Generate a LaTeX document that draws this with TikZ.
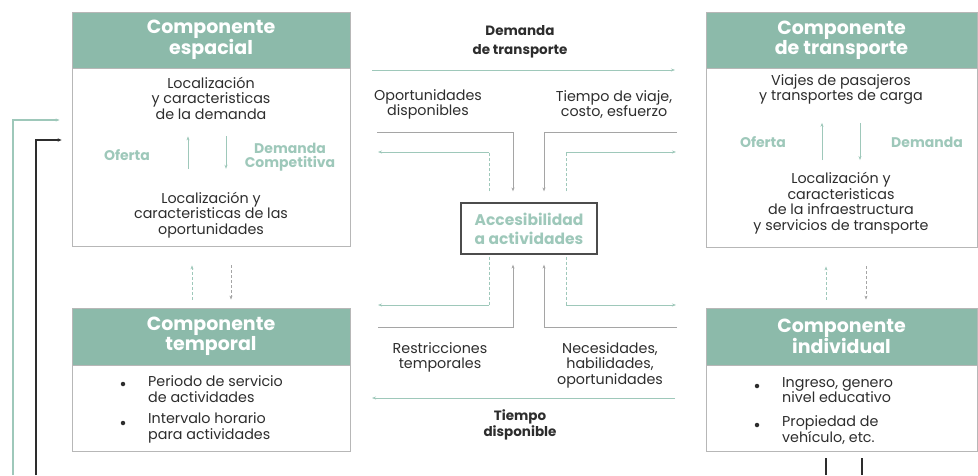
\documentclass[tikz,border=0pt]{standalone}
\usepackage{fontspec}
\setmainfont{Poppins}
\usetikzlibrary{positioning,arrows.meta}
\definecolor{verde}{RGB}{140,186,170}
\definecolor{verdeclaro}{RGB}{158,200,186}
\definecolor{gris}{RGB}{165,165,165}
\definecolor{texto}{RGB}{45,45,45}
\tikzstyle{caja} = [draw=gris!80, rectangle, line width=0.8pt]
\tikzstyle{cabeza} = [draw=gris!80, fill=verde, rectangle, line width=0.8pt, text=white, align=center, font=\bfseries\fontsize{19}{17.5}\selectfont]
\tikzstyle{txt} = [text=texto, align=center, inner sep=1pt, font=\fontsize{14.3}{15.5}\selectfont]
\tikzstyle{vtxt} = [text=verdeclaro, align=center, inner sep=1pt, font=\bfseries\fontsize{14}{13.5}\selectfont]
\tikzstyle{bala} = [circle, fill=texto, inner sep=0pt, minimum size=4.5pt]
\tikzstyle{lv} = [draw=verdeclaro, line width=0.9pt, -{Stealth[length=4pt,width=3pt]}]
\tikzstyle{lg} = [draw=gris, line width=0.9pt, -{Stealth[length=4pt,width=3pt]}]

\begin{document}
\begin{tikzpicture}[x=1pt, y=-1pt]
	\useasboundingbox (0,0) rectangle (978,475);
	% cajas
	\node (esp) [caja, minimum width=278pt, minimum height=234pt] at (211,129) {};
	\node (espH) [cabeza, minimum width=278pt, minimum height=56pt, anchor=north] at (esp.north) {Componente\\espacial};
	\node (tem) [caja, minimum width=278pt, minimum height=143pt] at (211,379.5) {};
	\node (temH) [cabeza, minimum width=278pt, minimum height=57pt, anchor=north] at (tem.north) {Componente\\temporal};
	\node (tra) [caja, minimum width=271pt, minimum height=235pt] at (841.5,129.5) {};
	\node (traH) [cabeza, minimum width=271pt, minimum height=56pt, anchor=north] at (tra.north) {Componente\\de transporte};
	\node (ind) [caja, minimum width=271pt, minimum height=143pt] at (841.5,379.5) {};
	\node (indH) [cabeza, minimum width=271pt, minimum height=57pt, anchor=north] at (ind.north) {Componente\\individual};
	\node (acc) [draw=texto!85, line width=1.2pt, minimum width=136pt, minimum height=51pt, vtxt, font=\bfseries\fontsize{15.5}{19}\selectfont] at (529,228.5) {Accesibilidad\\a actividades};

	% componente espacial
	\node (espD) [txt] at (211,98) {Localización\\y caracteristicas\\de la demanda};
	\node (espO) [txt] at (211,215) {Localización y\\caracteristicas de las\\oportunidades};
	\node (espOf) [vtxt] at (127,155) {Oferta};
	\node (espDc) [vtxt] at (290,157) {Demanda\\Competitiva};
	\draw [lv, shorten <=22pt, shorten >=16pt] ([xshift=-23pt]espO.north) -- ([xshift=-23pt]espD.south);
	\draw [lv, shorten <=16pt, shorten >=22pt] ([xshift=15pt]espD.south) -- ([xshift=15pt]espO.north);

	% componente de transporte
	\node (traV) [txt] at (841,89.5) {Viajes de pasajeros\\y transportes de carga};
	\node (traL) [txt] at (841,203) {Localización y\\caracteristicas\\de la infraestructura\\y servicios de transporte};
	\node (traOf) [vtxt] at (763,142) {Oferta};
	\node (traDm) [vtxt] at (927,142) {Demanda};
	\draw [lv, shorten <=11pt, shorten >=17pt] ([xshift=-19pt]traL.north) -- ([xshift=-19pt]traV.south);
	\draw [lv, shorten <=17pt, shorten >=11pt] ([xshift=19pt]traV.south) -- ([xshift=19pt]traL.north);

	% componente temporal
	\node (temA) [txt, align=left, anchor=west] at (147,389) {Periodo de servicio\\de actividades};
	\node (temB) [txt, align=left, anchor=west] at (147,428) {Intervalo horario\\para actividades};
	\node (temA1) [bala] at (123,384) {};
	\node (temB1) [bala] at (123,423) {};

	% componente individual
	\node (indA) [txt, align=left, anchor=west] at (781,390) {Ingreso, genero\\nivel educativo};
	\node (indB) [txt, align=left, anchor=west] at (781,430) {Propiedad de\\vehículo, etc.};
	\node (indA1) [bala] at (757,386) {};
	\node (indB1) [bala] at (757,425) {};

	% entre cajas
	\draw [lv, densely dashed, shorten <=8pt, shorten >=19pt] ([xshift=-19pt]tem.north) -- ([xshift=-19pt]esp.south);
	\draw [lg, densely dashed, shorten <=19pt, shorten >=8pt] ([xshift=20pt]esp.south) -- ([xshift=20pt]tem.north);
	\draw [lv, densely dashed, shorten <=8pt, shorten >=19pt] ([xshift=-15.5pt]ind.north) -- ([xshift=-15.5pt]tra.south);
	\draw [lg, densely dashed, shorten <=19pt, shorten >=8pt] ([xshift=24.5pt]tra.south) -- ([xshift=24.5pt]ind.north);

	% centro arriba
	\node (dem) [txt, font=\bfseries\fontsize{13.5}{19}\selectfont] at (520,42) {Demanda\\de transporte};
	\node (opo) [txt] at (428,104.5) {Oportunidades\\disponibles};
	\node (tie) [txt] at (614,104.5) {Tiempo de viaje,\\costo, esfuerzo};
	\coordinate (demL) at (372,70);
	\coordinate (demR) at (675,70);
	\draw [lv] (demL) -- (demR);
	\coordinate (oaL) at (377,132);
	\coordinate (oaR) at (677,132);
	\coordinate (iaL) at (378,152);
	\coordinate (iaR) at (676,152);
	\draw [lg, shorten >=11pt] (oaL) -| ([xshift=-16pt]acc.north);
	\draw [lg, shorten >=11pt] (oaR) -| ([xshift=15pt]acc.north);
	\draw [draw=verdeclaro, line width=0.9pt, densely dashed, shorten <=11pt] ([xshift=-40pt]acc.north) -- ([xshift=-40pt]acc.north |- iaL);
	\draw [lv] ([xshift=-40pt]acc.north |- iaL) -- (iaL);
	\draw [draw=verdeclaro, line width=0.9pt, densely dashed, shorten <=11pt] ([xshift=37pt]acc.north) -- ([xshift=37pt]acc.north |- iaR);
	\draw [lv] ([xshift=37pt]acc.north |- iaR) -- (iaR);

	% centro abajo
	\coordinate (obL) at (378,327);
	\coordinate (obR) at (677,327);
	\coordinate (ibL) at (378,305);
	\coordinate (ibR) at (676,305);
	\draw [lg, shorten >=10pt] (obL) -| ([xshift=-16pt]acc.south);
	\draw [lg, shorten >=10pt] (obR) -| ([xshift=15pt]acc.south);
	\draw [draw=verdeclaro, line width=0.9pt, densely dashed, shorten <=2pt] ([xshift=-40pt]acc.south) -- ([xshift=-40pt]acc.south |- ibL);
	\draw [lv] ([xshift=-40pt]acc.south |- ibL) -- (ibL);
	\draw [draw=verdeclaro, line width=0.9pt, densely dashed, shorten <=2pt] ([xshift=37pt]acc.south) -- ([xshift=37pt]acc.south |- ibR);
	\draw [lv] ([xshift=37pt]acc.south |- ibR) -- (ibR);
	\node (res) [txt] at (440,357.5) {Restricciones\\temporales};
	\node (nec) [txt] at (610,365) {Necesidades,\\habilidades,\\oportunidades};
	\coordinate (tdL) at (372,398);
	\coordinate (tdR) at (675,398);
	\draw [lv] (tdR) -- (tdL);
	\node (tdi) [txt, font=\bfseries\fontsize{13.5}{16}\selectfont] at (520,425) {Tiempo\\disponible};

	% retroalimentacion
	\coordinate (bajoV) at (13,475);
	\coordinate (bajoN) at (36,475);
	\draw [lv, line width=1.4pt, shorten >=12pt] (bajoV) |- ([yshift=9pt]esp.west);
	\draw [draw=texto, line width=1.8pt, -{Stealth[length=4pt,width=3.5pt]}, shorten >=10pt] (bajoN) |- ([yshift=-11pt]esp.west);
	\draw [draw=texto, line width=1.8pt, shorten <=7pt] ([xshift=-15.5pt]ind.south) -- ([xshift=-15.5pt]ind.south |- bajoV);
	\draw [draw=texto, line width=1.8pt, shorten <=7pt] ([xshift=20.5pt]ind.south) -- ([xshift=20.5pt]ind.south |- bajoV);
\end{tikzpicture}
\end{document}
